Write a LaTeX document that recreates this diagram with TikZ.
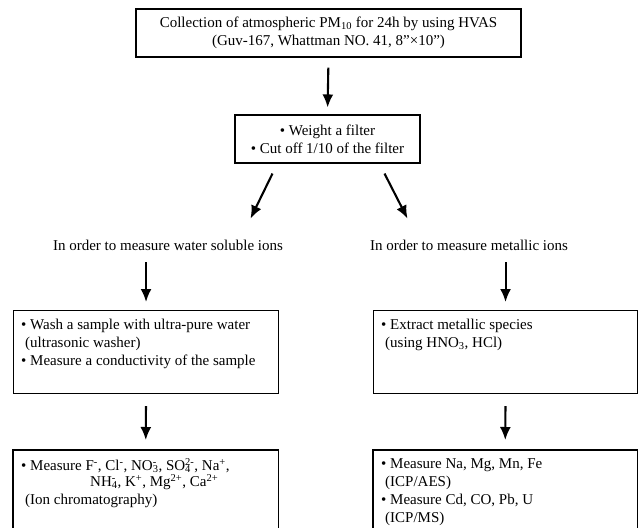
\documentclass[tikz,border=0pt]{standalone}
\usepackage{fontspec}
\setmainfont{Liberation Serif}
\usetikzlibrary{arrows.meta}
\newsavebox\ssA
\newsavebox\ssB
\newcommand\SubSup[2]{\sbox\ssA{\textsubscript{#1}}\sbox\ssB{\textsuperscript{#2}}\ifdim\wd\ssA>\wd\ssB\rlap{\usebox\ssB}\usebox\ssA\else\rlap{\usebox\ssA}\usebox\ssB\fi}
\tikzset{
  txt/.style={font=\fontsize{15}{18}\selectfont, inner sep=2pt},
  box/.style={draw, line width=1.1pt, inner sep=0pt},
  side/.style={line width=1.1pt},
  arr/.style={line width=2.1pt, -{Latex[length=13pt,width=11pt]}},
}
\begin{document}
\begin{tikzpicture}[x=1pt,y=-1pt]
\useasboundingbox (0,0) rectangle (639,527);
% top box
\node[box, txt, minimum width=385, minimum height=48, align=center] (top) at (328.5,33)
  {Collection of atmospheric PM\textsubscript{10} for 24h by using HVAS\\(Guv-167, Whattman NO. 41, 8"\texttimes10")};
% filter box
\node[box, txt, minimum width=185, minimum height=48, align=center] (filt) at (327.5,139)
  {• Weight a filter\\• Cut off 1/10 of the filter};
\draw[arr, shorten <=10pt, shorten >=7pt] (top.south) -- (filt.north);
% labels
\node[txt] (labL) at (168,245) {In order to measure water soluble ions};
\node[txt] (labR) at (469,245) {In order to measure metallic ions};
\draw[arr] (filt.south) ++(-55,10) -- ++(-22,45);
\draw[arr] (filt.south) ++(57,10) -- ++(23,45);
% middle boxes
\node[box, anchor=north west, minimum width=265, minimum height=83] (wash) at (13,310) {};
\node[txt, anchor=north west, align=left] (washT) at (19,317)
  {• Wash a sample with ultra-pure water\\\hspace{4pt}(ultrasonic washer)\\• Measure a conductivity of the sample};
\node[box, anchor=north west, minimum width=264, minimum height=83] (extr) at (373,310) {};
\node[txt, anchor=north west, align=left] (extrT) at (379,317)
  {• Extract metallic species\\\hspace{4pt}(using HNO\textsubscript{3}, HCl)};
\draw[arr, shorten <=10pt, shorten >=8pt] (wash.north |- labL.south) -- (wash.north);
\draw[arr, shorten <=10pt, shorten >=8pt] (extr.north |- labR.south) -- (extr.north);
% bottom boxes (open at the bottom)
\node[anchor=north west, minimum width=265, minimum height=90, inner sep=0pt] (ion) at (13,450) {};
\draw[side] (ion.south west) -- (ion.north west) -- (ion.north east) -- (ion.south east);
\node[txt, anchor=north west, align=left] (ionT) at (19,456)
  {• Measure F\textsuperscript{-}, Cl\textsuperscript{-}, NO\SubSup{3}{-}, SO\SubSup{4}{2-}, Na\textsuperscript{+},\\[-2pt]
   \hspace{69pt}NH\SubSup{4}{-}, K\textsuperscript{+}, Mg\textsuperscript{2+}, Ca\textsuperscript{2+}\\
   \hspace{4pt}(Ion chromatography)};
\node[anchor=north west, minimum width=264, minimum height=90, inner sep=0pt] (icp) at (373,450) {};
\draw[side] (icp.south west) -- (icp.north west) -- (icp.north east) -- (icp.south east);
\node[txt, anchor=north west, align=left] (icpT) at (379,456)
  {• Measure Na, Mg, Mn, Fe\\\hspace{4pt}(ICP/AES)\\• Measure Cd, CO, Pb, U\\\hspace{4pt}(ICP/MS)};
\draw[arr, shorten <=12pt, shorten >=10pt] (wash.south) -- (ion.north);
\draw[arr, shorten <=12pt, shorten >=10pt] (extr.south) -- (icp.north);
\end{tikzpicture}
\end{document}
